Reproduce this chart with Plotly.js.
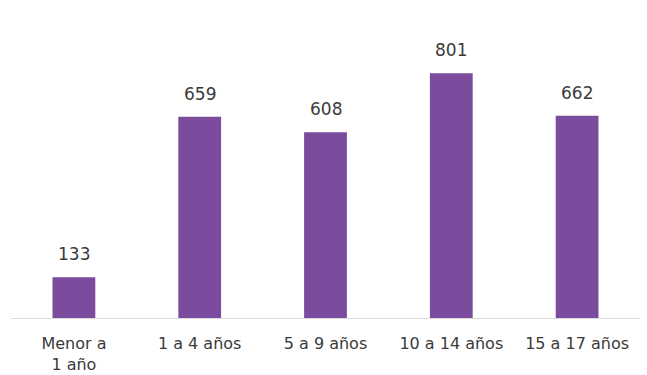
<!DOCTYPE html>
<html>
<head>
<meta charset="utf-8">
<script src="https://cdn.plot.ly/plotly-3.0.1.min.js"></script>
<style>html,body{margin:0;padding:0;background:#fff;}#chart{width:647px;height:375px;}</style>
</head>
<body>
<div id="chart"></div>
<script>
const categories = ["Menor a<br>1 año", "1 a 4 años", "5 a 9 años", "10 a 14 años", "15 a 17 años"];
const values = [133, 659, 608, 801, 662];

const FONT = "DejaVu Sans, sans-serif";
const trace = {
  type: "bar",
  x: categories,
  y: values,
  marker: {color: "#7B4B9E"},
  hoverinfo: "x+y"
};
const annotations = categories.map((c, i) => ({
  x: c, y: values[i], text: String(values[i]),
  showarrow: false, yanchor: "bottom", yshift: 11,
  font: {family: FONT, size: 17, color: "#3a3a3a"}
}));
const layout = {
  width: 647, height: 375,
  margin: {l: 10.5, r: 6.5, t: 43, b: 57},
  paper_bgcolor: "#fff", plot_bgcolor: "#fff",
  bargap: 0.66,
  showlegend: false,
  xaxis: {
    showline: true, linecolor: "#dcdcdc", linewidth: 1,
    ticks: "", showgrid: false, zeroline: false,
    tickfont: {family: FONT, size: 16, color: "#3a3a3a"},
    ticklabelstandoff: 11
  },
  yaxis: {range: [0, 900], visible: false, showgrid: false, zeroline: false},
  annotations: annotations
};
Plotly.newPlot("chart", [trace], layout, {displayModeBar: false, staticPlot: true});
</script>
</body>
</html>
